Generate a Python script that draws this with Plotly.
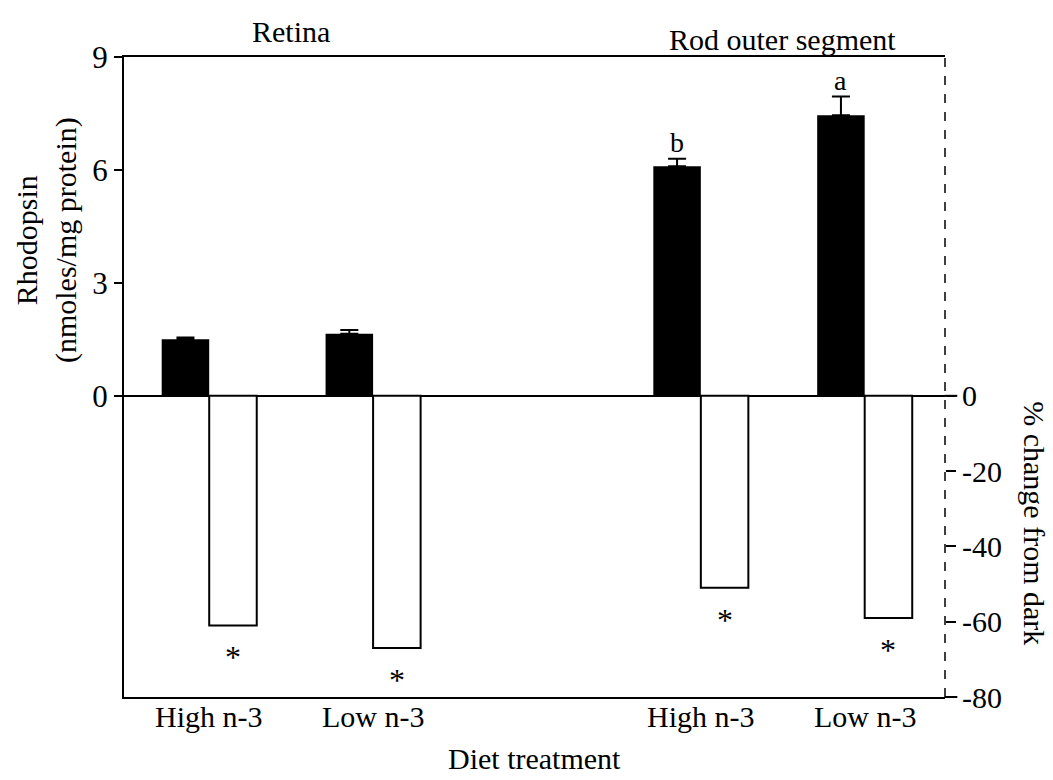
import plotly.graph_objects as go

# Diet groups: retina (High/Low n-3) and rod outer segment (High/Low n-3)
categories = ["High n-3", "Low n-3", "High n-3", "Low n-3"]
group_pos = [0, 1, 3, 4]

# Rhodopsin content, nmoles/mg protein (left axis)
rhodopsin = [1.50, 1.65, 6.10, 7.45]
rhodopsin_err = [0.05, 0.10, 0.20, 0.50]
sig_letters = ["", "", "b", "a"]

# Percent change from dark-adapted (right axis)
pct_change = [-61, -67, -51, -59]

FONT = "Liberation Serif"
FS = 30
BAR_W = 0.29

black_x = [p - BAR_W / 2 for p in group_pos]
open_x = [p + BAR_W / 2 for p in group_pos]

fig = go.Figure()

fig.add_trace(go.Bar(
    x=black_x, y=rhodopsin, width=BAR_W,
    marker=dict(color="black", line=dict(width=0)),
    error_y=dict(type="data", symmetric=False, array=rhodopsin_err,
                 arrayminus=[0] * len(rhodopsin_err),
                 color="black", thickness=2, width=9),
    yaxis="y", showlegend=False,
))

fig.add_trace(go.Bar(
    x=open_x, y=pct_change, width=BAR_W,
    marker=dict(color="white", line=dict(color="black", width=2)),
    yaxis="y2", showlegend=False,
))

annotations = []
# significance letters above the error bars
for x, v, e, s in zip(black_x, rhodopsin, rhodopsin_err, sig_letters):
    if s:
        annotations.append(dict(x=x, y=v + e, xref="x", yref="y", text=s,
                                showarrow=False, yanchor="bottom", yshift=-1,
                                font=dict(family=FONT, size=28, color="black")))
# asterisks under the open bars
for x, v in zip(open_x, pct_change):
    annotations.append(dict(x=x, y=v, xref="x", yref="y2", text="*",
                            showarrow=False, yanchor="top", yshift=-12,
                            font=dict(family=FONT, size=32, color="black")))

# category labels below the frame
for p, c in zip(group_pos, categories):
    annotations.append(dict(x=p, y=0, xref="x", yref="paper", text=c,
                            showarrow=False, yanchor="top", yshift=-1,
                            font=dict(family=FONT, size=FS, color="black")))
annotations.append(dict(x=0.5, y=0, xref="paper", yref="paper",
                        text="Diet treatment", showarrow=False,
                        yanchor="top", yshift=-43,
                        font=dict(family=FONT, size=FS, color="black")))

# tissue headings
annotations.append(dict(x=0.5, y=1, xref="x", yref="paper", text="Retina",
                        showarrow=False, yanchor="bottom", yshift=7,
                        font=dict(family=FONT, size=FS, color="black")))
annotations.append(dict(x=3.5, y=1, xref="x", yref="paper",
                        text="Rod outer segment",
                        showarrow=False, yanchor="bottom", yshift=-1,
                        font=dict(family=FONT, size=FS, color="black")))

# axis titles
annotations.append(dict(x=-0.095, y=0.714, xref="paper", yref="paper",
                        xanchor="center", yanchor="middle",
                        text="Rhodopsin<br>(nmoles/mg protein)", textangle=-90,
                        showarrow=False,
                        font=dict(family=FONT, size=FS, color="black")))
annotations.append(dict(x=1.108, y=0.272, xref="paper", yref="paper",
                        xanchor="center", yanchor="middle",
                        text="% change from dark", textangle=90,
                        showarrow=False,
                        font=dict(family=FONT, size=FS, color="black")))

shapes = [
    # dashed right-hand axis
    dict(type="line", xref="paper", yref="paper", x0=1, x1=1, y0=0, y1=1,
         line=dict(color="black", width=1.5, dash="dash")),
    # baseline and bottom frame run slightly past the right axis
    dict(type="line", xref="paper", yref="y", x0=1, x1=1.015, y0=0, y1=0,
         line=dict(color="black", width=2)),
    dict(type="line", xref="paper", yref="paper", x0=1, x1=1.015, y0=0, y1=0,
         line=dict(color="black", width=2)),
]

fig.update_layout(
    width=1053, height=780,
    margin=dict(l=124, r=108, t=57, b=83),
    paper_bgcolor="white", plot_bgcolor="white",
    barmode="overlay",
    font=dict(family=FONT, size=FS, color="black"),
    xaxis=dict(range=[-0.52, 4.49], showticklabels=False,
               ticks="", showline=True, mirror=True, linecolor="black",
               linewidth=2, showgrid=False, zeroline=False),
    yaxis=dict(range=[-8, 9], tickvals=[0, 3, 6, 9], ticks="outside",
               ticklen=8, tickwidth=1.5, tickcolor="black",
               showline=True, linecolor="black", linewidth=2,
               showgrid=False, zeroline=True, zerolinecolor="black",
               zerolinewidth=2, tickfont=dict(family=FONT, size=31)),
    yaxis2=dict(range=[-80, 90], overlaying="y", side="right",
                tickvals=[0, -20, -40, -60, -80],
                ticktext=["0", "-20", "-40", "-60", "-80"],
                ticks="outside", ticklen=10, tickwidth=1.5, tickcolor="black",
                showline=False, showgrid=False, zeroline=False,
                tickfont=dict(family=FONT, size=FS)),
    annotations=annotations,
    shapes=shapes,
)

fig.write_html("out.html")
